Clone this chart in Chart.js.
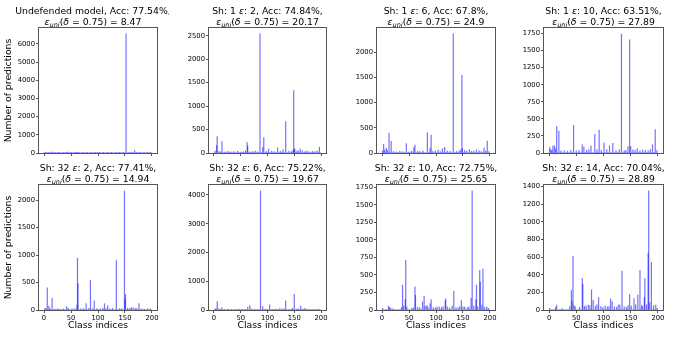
<!DOCTYPE html>
<html><head><meta charset="utf-8">
<script src="https://cdn.jsdelivr.net/npm/chart.js@4"></script>
<style>
html,body{margin:0;padding:0;background:#fff;width:675px;height:338px;overflow:hidden;position:relative;}
canvas{position:absolute;}
</style></head><body>
<script>
// ---------- data ----------
const xTicks = [0, 50, 100, 150, 200];
const yTicks1 = [0, 1000, 2000, 3000, 4000, 5000, 6000];
const yTicks2 = [0, 500, 1000, 1500, 2000, 2500];
const yTicks3 = [0, 500, 1000, 1500, 2000];
const yTicks4 = [0, 250, 500, 750, 1000, 1250, 1500, 1750];
const yTicks5 = [0, 500, 1000, 1500, 2000];
const yTicks6 = [0, 1000, 2000, 3000, 4000];
const yTicks7 = [0, 250, 500, 750, 1000, 1250, 1500, 1750];
const yTicks8 = [0, 200, 400, 600, 800, 1000, 1200, 1400];

const titleTop = [
  'Undefended model, Acc: 77.54%,', 'Sh: 1 ε: 2, Acc: 74.84%,', 'Sh: 1 ε: 6, Acc: 67.8%,', 'Sh: 1 ε: 10, Acc: 63.51%,',
  'Sh: 32 ε: 2, Acc: 77.41%,', 'Sh: 32 ε: 6, Acc: 75.22%,', 'Sh: 32 ε: 10, Acc: 72.75%,', 'Sh: 32 ε: 14, Acc: 70.04%,'
];
const titleBottom = [
  'ε_uni(δ = 0.75) = 8.47', 'ε_uni(δ = 0.75) = 20.17', 'ε_uni(δ = 0.75) = 24.9', 'ε_uni(δ = 0.75) = 27.89',
  'ε_uni(δ = 0.75) = 14.94', 'ε_uni(δ = 0.75) = 19.67', 'ε_uni(δ = 0.75) = 25.65', 'ε_uni(δ = 0.75) = 28.89'
];

const p1Idx = [3,8,14,20,27,35,41,44,50,58,60,64,72,80,88,95,99,103,110,118,125,133,140,147,152,158,163,168,172,178,185,192,197];
const p1Val = [25,30,55,15,20,30,18,45,22,35,40,15,25,20,30,18,30,25,20,30,15,22,35,20,6550,25,40,140,30,20,35,25,15];

const p2Idx = [2,5,6,9,12,15,20,26,31,37,44,50,55,59,62,63,67,72,77,81,86,91,93,98,102,108,113,119,124,129,134,140,145,148,149,150,151,155,158,161,165,170,174,179,184,189,193,197];
const p2Val = [40,160,350,30,25,245,20,35,25,30,40,20,30,45,220,150,25,30,40,25,2540,120,330,35,85,40,30,110,35,70,670,40,30,70,1330,60,90,45,35,85,50,30,40,25,35,30,40,125];

const p3Idx = [1,3,5,8,10,13,17,21,26,33,39,45,50,55,59,61,66,70,76,84,89,91,94,99,104,108,112,116,121,126,132,138,143,146,148,149,153,157,162,166,170,175,180,184,189,192,195,198];
const p3Val = [40,170,60,100,50,395,230,30,25,35,30,185,25,40,105,155,35,30,40,400,100,355,35,45,65,30,85,110,40,35,2360,30,45,65,1540,90,50,40,65,35,40,65,45,30,100,40,235,30];

const p4Idx = [1,3,5,7,10,12,14,18,22,28,34,40,45,50,55,61,64,69,73,77,84,88,92,96,101,106,111,117,123,129,133,138,141,145,148,150,154,158,162,167,172,177,182,186,190,195,198];
const p4Val = [80,50,40,100,105,60,390,320,30,35,25,40,405,30,35,120,85,40,50,100,275,45,335,40,150,50,105,140,35,50,1745,30,40,95,1660,95,45,40,65,35,45,40,30,50,120,345,35];

const p5Idx = [2,4,6,9,11,15,20,25,30,36,42,45,52,57,61,62,63,68,73,78,83,86,90,93,98,104,109,112,115,118,122,127,134,140,144,149,150,151,155,159,162,165,169,172,176,181,186,192,197];
const p5Val = [30,20,405,70,25,210,15,20,18,22,60,30,20,25,90,945,480,20,25,115,30,540,20,165,25,20,30,115,25,80,20,30,900,25,20,2165,190,280,35,30,40,40,30,25,115,20,15,25,20];

const p6Idx = [2,4,6,9,12,15,20,27,33,40,47,52,58,63,67,70,76,82,87,91,96,100,104,109,114,118,123,128,131,134,140,145,147,150,155,158,162,166,170,175,180,186,191,196];
const p6Val = [30,40,290,45,25,80,20,30,20,25,30,20,25,95,150,30,20,25,4140,115,30,20,175,25,30,25,60,30,40,315,25,30,60,545,35,40,140,30,60,20,25,20,25,35];

const p7Idx = [1,12,14,16,20,36,38,40,43,44,46,55,58,61,62,66,70,75,78,80,83,85,89,91,95,99,102,106,110,113,117,118,121,125,130,133,137,141,144,147,150,153,158,161,165,167,170,174,175,177,181,182,185,187,190,194,197];
const p7Val = [25,55,40,25,15,35,355,60,150,710,40,25,30,330,210,40,35,115,200,50,65,40,90,150,35,30,45,40,35,50,130,160,45,30,55,265,35,30,50,135,45,40,35,40,165,1700,60,150,355,45,565,400,70,585,40,45,25];

const p8Idx = [1,12,14,24,38,41,42,44,46,48,56,61,62,65,68,72,75,78,81,85,88,91,95,99,103,107,110,113,116,120,124,127,130,134,138,142,145,148,151,156,159,163,167,170,172,175,176,179,182,183,185,188,192,196,199];
const p8Val = [20,30,55,15,40,220,100,610,50,35,30,355,295,40,45,55,50,230,110,45,60,140,40,30,45,35,40,125,95,35,30,55,60,440,40,30,50,175,45,130,60,170,450,50,40,140,355,60,645,1350,80,540,50,55,20];

const nClasses = 200;

// ---------- layout ----------
const panels = [
  {idx:p1Idx, val:p1Val, yt:yTicks1}, {idx:p2Idx, val:p2Val, yt:yTicks2},
  {idx:p3Idx, val:p3Val, yt:yTicks3}, {idx:p4Idx, val:p4Val, yt:yTicks4},
  {idx:p5Idx, val:p5Val, yt:yTicks5}, {idx:p6Idx, val:p6Val, yt:yTicks6},
  {idx:p7Idx, val:p7Val, yt:yTicks7}, {idx:p8Idx, val:p8Val, yt:yTicks8}
];
const COL_L = [39, 209, 377, 544], COL_R = [157, 326, 495, 663];
const AXW = 39, PADR = 12, PADT = 28;
const FAM = '"DejaVu Sans", sans-serif';
const TITLE_PX = 9.3, TICK_PX = 6.8;

function runs(s) {
  const out = []; let i = 0;
  while (i < s.length) {
    const ch = s[i];
    if (ch === 'ε' || ch === 'δ') { out.push({t: ch, it: true}); i++; }
    else if (s.startsWith('_uni', i)) { out.push({t: 'uni', it: true, sub: true}); i += 4; }
    else { let j = i; while (j < s.length && 'εδ_'.indexOf(s[j]) < 0) j++; out.push({t: s.slice(i, j)}); i = j; }
  }
  return out;
}
function drawRich(ctx, s, cx, y) {
  const rs = runs(s);
  const fontOf = r => (r.it ? 'italic ' : '') + (r.sub ? TITLE_PX * 0.7 : TITLE_PX) + 'px ' + FAM;
  let total = 0;
  rs.forEach(r => { ctx.font = fontOf(r); r.w = ctx.measureText(r.t).width; total += r.w; });
  let x = cx - total / 2;
  rs.forEach(r => { ctx.font = fontOf(r); ctx.fillText(r.t, x, y + (r.sub ? 2.3 : 0)); x += r.w; });
}

panels.forEach((p, k) => {
  const row = Math.floor(k / 4), col = k % 4;
  const L = COL_L[col], R = COL_R[col];
  const w = R - L + AXW + PADR;
  const top = row ? 157 : 0, h = row ? 181 : 163;
  const cv = document.createElement('canvas');
  cv.width = w; cv.height = h;
  cv.style.left = (L - AXW) + 'px'; cv.style.top = top + 'px';
  cv.style.width = w + 'px'; cv.style.height = h + 'px';
  document.body.appendChild(cv);

  const full = new Array(nClasses).fill(0);
  p.idx.forEach((i, j) => { full[i] = p.val[j]; });
  const data = full.map((v, i) => ({x: i, y: v}));
  const ymax = Math.max(...full) * 1.05;
  const titleDx = k === 0 ? -5 : 0;

  const frame = {
    id: 'frame' + k,
    afterDraw(chart) {
      const {ctx, chartArea: a} = chart;
      ctx.save();
      ctx.strokeStyle = '#555'; ctx.lineWidth = 1;
      ctx.strokeRect(Math.round(a.left) - 0.5, Math.round(a.top) - 0.5,
                     Math.round(a.right - a.left) + 1, Math.round(a.bottom - a.top) + 1);
      ctx.fillStyle = '#000'; ctx.textBaseline = 'alphabetic'; ctx.textAlign = 'left';
      const cx = (a.left + a.right) / 2 + titleDx;
      drawRich(ctx, titleTop[k], cx, a.top - 14);
      drawRich(ctx, titleBottom[k], cx, a.top - 3);
      ctx.restore();
    }
  };

  new Chart(cv, {
    type: 'bar',
    data: {datasets: [{data, backgroundColor: 'rgba(0,0,255,0.55)', borderWidth: 0, barThickness: 0.55}]},
    options: {
      responsive: false, animation: false, devicePixelRatio: 1,
      layout: {padding: {left: 0, right: PADR, top: PADT, bottom: 0}},
      plugins: {legend: {display: false}, tooltip: {enabled: false}, title: {display: false}},
      scales: {
        x: {
          type: 'linear', min: -9.3, max: 209.3, offset: false,
          grid: {display: true, offset: false, drawOnChartArea: false, drawTicks: true, tickLength: 3, color: '#555', lineWidth: 1},
          border: {display: false},
          ticks: {display: row === 1, font: {family: FAM, size: TICK_PX}, color: '#000', padding: 1, maxRotation: 0, autoSkip: false, callback: v => String(v)},
          title: {display: row === 1, text: 'Class indices', font: {family: FAM, size: TITLE_PX}, color: '#000', padding: {top: 6.4, bottom: 6.4}},
          afterBuildTicks: s => { s.ticks = xTicks.map(v => ({value: v})); },
          afterFit: s => { s.height = row ? 28 : 10; }
        },
        y: {
          type: 'linear', min: 0, max: ymax,
          grid: {display: true, drawOnChartArea: false, drawTicks: true, tickLength: 3, color: '#555', lineWidth: 1},
          border: {display: false},
          ticks: {font: {family: FAM, size: TICK_PX}, color: '#000', padding: 1, autoSkip: false, callback: v => String(v)},
          title: {display: col === 0, text: 'Number of predictions', font: {family: FAM, size: TITLE_PX}, color: '#000', padding: {top: 3.4, bottom: 3.4}},
          afterBuildTicks: s => { s.ticks = p.yt.map(v => ({value: v})); },
          afterFit: s => { s.width = AXW; }
        }
      }
    },
    plugins: [frame]
  });
});
</script>
</body></html>
